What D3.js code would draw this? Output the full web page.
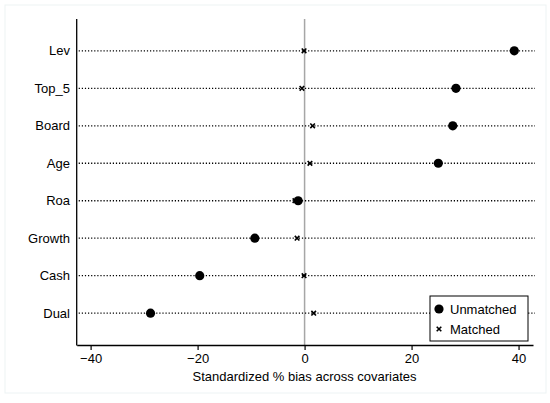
<!DOCTYPE html>
<html><head><meta charset="utf-8">
<script src="https://cdn.jsdelivr.net/npm/d3@7/dist/d3.min.js"></script>
<style>body{margin:0;background:#fff}text{font-family:"Liberation Sans",Arial,sans-serif;fill:#000}</style>
</head><body><svg id="c" width="550" height="403"></svg>
<script>
const categories = ["Lev","Top_5","Board","Age","Roa","Growth","Cash","Dual"];
const unmatched = [39.2, 28.3, 27.7, 25.0, -1.2, -9.3, -19.6, -28.8];
const matched = [-0.1, -0.5, 1.5, 1.0, -1.8, -1.4, -0.1, 1.7];
const xTicks = [-40, -20, 0, 20, 40];
const seriesNames = ["Unmatched", "Matched"];

const svg = d3.select("#c");
svg.append("rect").attr("x",5).attr("y",5).attr("width",541).attr("height",388)
  .attr("fill","#fff").attr("stroke","#edf3f4").attr("stroke-width",1);

const x = d3.scaleLinear().domain([-42.6, 42.7]).range([76.7, 533]);
const y = d3.scalePoint().domain(categories).range([19, 345]).padding(0.85);

// zero line
svg.append("line").attr("x1",x(0)).attr("x2",x(0)).attr("y1",19).attr("y2",345)
  .attr("stroke","#a6a6a6").attr("stroke-width",1.5);

// dotted lines
svg.selectAll(".dl").data(categories).join("line")
  .attr("x1",x.range()[0]+2).attr("x2",x.range()[1]+2).attr("y1",d=>y(d)).attr("y2",d=>y(d))
  .attr("stroke","#000").attr("stroke-width",1.3).attr("stroke-dasharray","1.2,1.9");

// y axis
svg.append("line").attr("x1",x.range()[0]).attr("x2",x.range()[0]).attr("y1",19).attr("y2",345.5)
  .attr("stroke","#000").attr("stroke-width",1.3);
svg.selectAll(".yl").data(categories).join("text")
  .attr("x",70).attr("y",d=>y(d)+4.6).attr("text-anchor","end").attr("font-size",13).text(d=>d);

// x axis
const xa = svg.append("g").attr("transform","translate(0,345)")
  .call(d3.axisBottom(x).tickValues(xTicks).tickSize(5).tickSizeOuter(0).tickFormat(d=>d<0?"\u2212"+Math.abs(d):d));
xa.select(".domain").attr("stroke","#000").attr("stroke-width",1.3);
xa.selectAll(".tick line").attr("stroke","#000").attr("stroke-width",1.2);
xa.selectAll(".tick text").attr("font-size",13).attr("font-family","Liberation Sans, Arial, sans-serif").attr("dy","0.72em").attr("y",9);
svg.append("text").attr("x",x(0)).attr("y",381).attr("text-anchor","middle").attr("font-size",13)
  .text("Standardized % bias across covariates");

// markers
function cross(g, cx, cy, s){
  g.append("path").attr("d",`M${cx-s},${cy-s}L${cx+s},${cy+s}M${cx-s},${cy+s}L${cx+s},${cy-s}`)
    .attr("stroke","#000").attr("stroke-width",1.6).attr("fill","none");
}
const mg = svg.append("g");
categories.forEach((c,i)=>{ cross(mg, x(matched[i]), y(c), 2.3); });
svg.selectAll(".um").data(categories).join("circle")
  .attr("cx",(d,i)=>x(unmatched[i])).attr("cy",d=>y(d)).attr("r",4.6).attr("fill","#000");

// legend
const lg = svg.append("g");
lg.append("rect").attr("x",430).attr("y",296).attr("width",98).attr("height",45)
  .attr("fill","#fff").attr("stroke","#000").attr("stroke-width",1);
lg.append("circle").attr("cx",439).attr("cy",309).attr("r",4.6).attr("fill","#000");
lg.append("text").attr("x",450).attr("y",313.6).attr("font-size",13).text(seriesNames[0]);
cross(lg, 439, 329, 2.3);
lg.append("text").attr("x",450).attr("y",333.6).attr("font-size",13).text(seriesNames[1]);
</script></body></html>
